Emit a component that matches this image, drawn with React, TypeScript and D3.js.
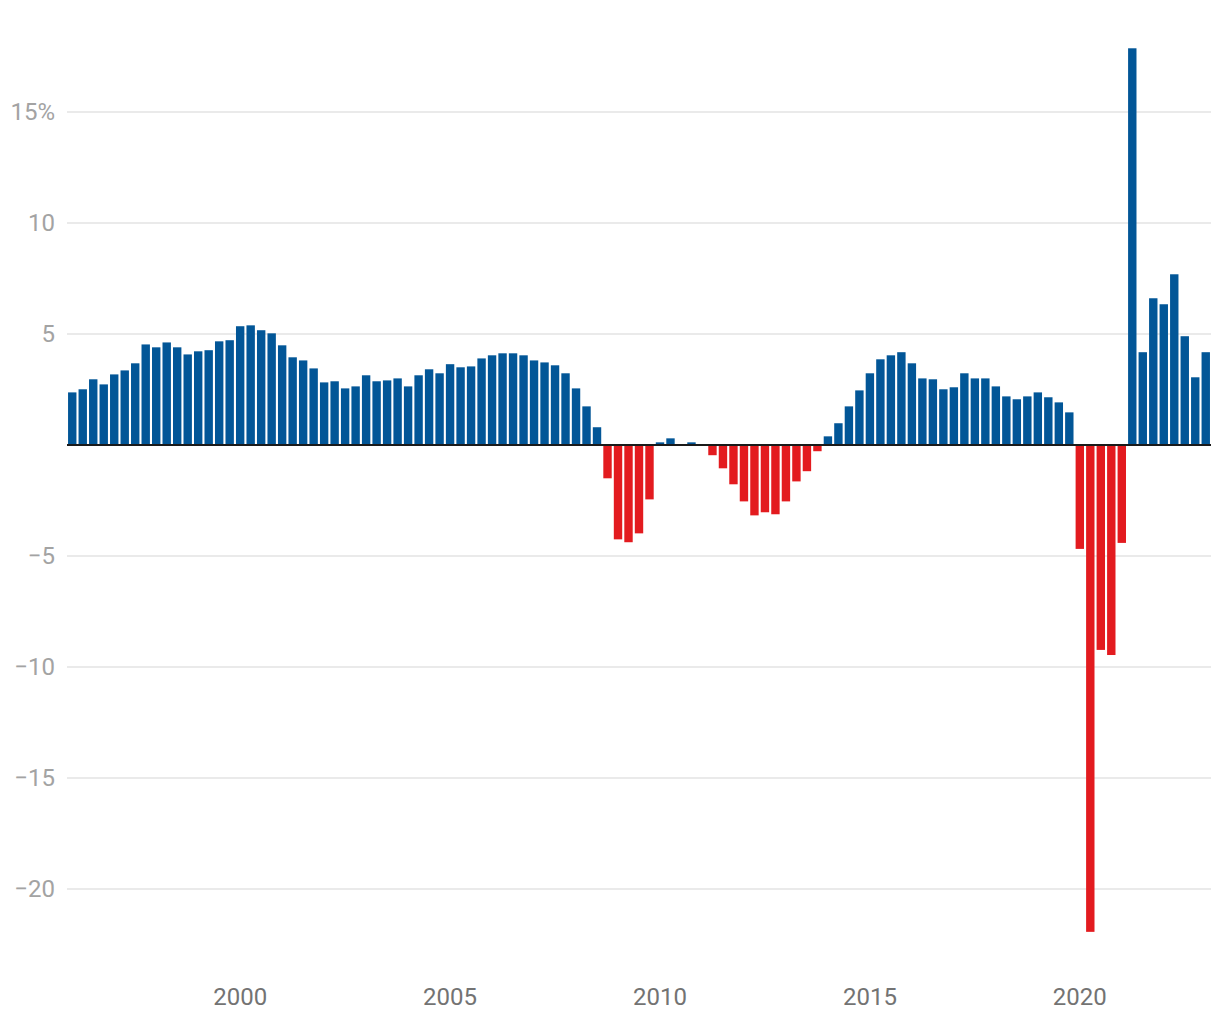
import React from "react";
import * as d3 from "d3";

const startYear = 1996;
const values: number[] = [
  2.37, 2.51, 2.96, 2.73, 3.18, 3.36, 3.68, 4.53, 4.40, 4.62, 4.40, 4.08,
  4.22, 4.27, 4.67, 4.72, 5.35, 5.39, 5.17, 5.03, 4.49, 3.95, 3.81, 3.45,
  2.82, 2.87, 2.55, 2.64, 3.14, 2.87, 2.91, 3.00, 2.64, 3.14, 3.41, 3.23,
  3.64, 3.50, 3.54, 3.90, 4.04, 4.13, 4.13, 4.04, 3.81, 3.72, 3.59, 3.23,
  2.55, 1.74, 0.80, -1.50, -4.25, -4.38, -3.98, -2.45, 0.12, 0.30, 0.0, 0.12,
  0.0, -0.46, -1.05, -1.77, -2.54, -3.17, -3.03, -3.12, -2.54, -1.64, -1.18, -0.28,
  0.39, 0.98, 1.74, 2.46, 3.23, 3.86, 4.04, 4.18, 3.68, 3.00, 2.96, 2.51,
  2.60, 3.23, 3.00, 3.00, 2.64, 2.19, 2.06, 2.19, 2.37, 2.15, 1.92, 1.47,
  -4.68, -21.93, -9.23, -9.46, -4.41, 17.87, 4.18, 6.61, 6.34, 7.69, 4.90, 3.05,
  4.18,
];
const quarters: string[] = values.map(
  (_, i) => `${startYear + Math.floor(i / 4)}Q${(i % 4) + 1}`
);
const gridTicks: number[] = [-20, -15, -10, -5, 0, 5, 10, 15];
const labelTicks: number[] = [-20, -15, -10, -5, 5, 10, 15];
const xTickYears: number[] = [2000, 2005, 2010, 2015, 2020];

const W = 1220;
const H = 1020;
const BLUE = "#025697";
const RED = "#e31b1f";

export default function App() {
  const x = d3
    .scaleBand<string>()
    .domain(quarters)
    .range([67, 1211])
    .paddingInner(0.2)
    .paddingOuter(0.1);
  const y = d3.scaleLinear().domain([-20, 15]).range([889, 112]);

  const fmtY = (v: number) => (v === 15 ? "15%" : v < 0 ? `\u2212${Math.abs(v)}` : `${v}`);

  return (
    <svg
      width={W}
      height={H}
      style={{ position: "absolute", left: 0, top: 0, background: "#fff" }}
      fontFamily="Roboto, sans-serif"
    >
      <g>
        {gridTicks
          .filter((t) => t !== 0)
          .map((t) => (
            <line
              key={t}
              x1={67}
              x2={1211}
              y1={y(t)}
              y2={y(t)}
              stroke="#e3e3e3"
              strokeWidth={1.5}
            />
          ))}
      </g>
      <g>
        {labelTicks.map((t) => (
          <text
            key={t}
            x={55}
            y={y(t)}
            dy="0.35em"
            textAnchor="end"
            fontSize={24}
            fill="#a3a3a3"
          >
            {fmtY(t)}
          </text>
        ))}
      </g>
      <g>
        {values.map((v, i) => (
          <rect
            key={quarters[i]}
            x={x(quarters[i])}
            width={x.bandwidth()}
            y={y(Math.max(0, v))}
            height={Math.abs(y(v) - y(0))}
            fill={v >= 0 ? BLUE : RED}
          />
        ))}
      </g>
      <line x1={67} x2={1211} y1={y(0)} y2={y(0)} stroke="#1a1a1a" strokeWidth={2} />
      <g>
        {xTickYears.map((yr) => {
          const q = `${yr}Q1`;
          const cx = (x(q) ?? 0) + x.bandwidth() / 2;
          return (
            <text
              key={yr}
              x={cx}
              y={1005}
              textAnchor="middle"
              fontSize={24}
              fill="#737373"
            >
              {yr}
            </text>
          );
        })}
      </g>
    </svg>
  );
}
